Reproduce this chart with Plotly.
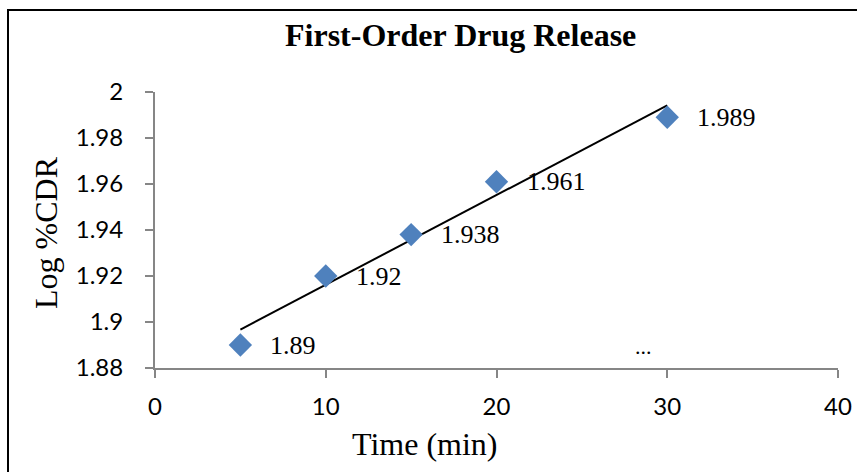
import numpy as np
import plotly.graph_objects as go

time_min = [5, 10, 15, 20, 30]
log_cdr = [1.89, 1.92, 1.938, 1.961, 1.989]
point_labels = ["1.89", "1.92", "1.938", "1.961", "1.989"]

x_ticks = [0, 10, 20, 30, 40]
y_ticks = [1.88, 1.9, 1.92, 1.94, 1.96, 1.98, 2.0]
y_tick_text = ["1.88", "1.9", "1.92", "1.94", "1.96", "1.98", "2"]

# linear trendline over the measured range
slope, intercept = np.polyfit(time_min, log_cdr, 1)
trend_x = [min(time_min), max(time_min)]
trend_y = [slope * x + intercept for x in trend_x]

serif = "Liberation Serif, Times New Roman, serif"
axis_grey = "#868686"

W, H = 857, 472
L, R, T, B = 155, 19, 92, 104
pw, ph = W - L - R, H - T - B


def px(x):
    return (x - L) / pw


def py(y):
    return (H - B - y) / ph


fig = go.Figure()

fig.add_trace(
    go.Scatter(
        x=trend_x,
        y=trend_y,
        mode="lines",
        line=dict(color="black", width=2),
        showlegend=False,
        hoverinfo="skip",
    )
)

fig.add_trace(
    go.Scatter(
        x=time_min,
        y=log_cdr,
        mode="markers",
        marker=dict(symbol="diamond", size=18, color="#4F81BD"),
        showlegend=False,
        cliponaxis=False,
    )
)

for x, y, t in zip(time_min, log_cdr, point_labels):
    fig.add_annotation(
        x=x, y=y, text=t, showarrow=False,
        xanchor="left", yanchor="middle", xshift=28,
        font=dict(family=serif, size=26, color="black"),
    )

fig.add_annotation(
    x=28.6, y=1.8895, text="...", showarrow=False,
    xanchor="center", yanchor="middle",
    font=dict(family=serif, size=22, color="black"),
)

fig.add_annotation(
    text="<b>First-Order Drug Release</b>",
    xref="paper", yref="paper", x=px(460), y=py(35),
    xanchor="center", yanchor="middle",
    showarrow=False, font=dict(family=serif, size=32, color="black"),
)

fig.add_annotation(
    text="Time (min)",
    xref="paper", yref="paper", x=px(425), y=py(444),
    xanchor="center", yanchor="middle",
    showarrow=False, font=dict(family=serif, size=32, color="black"),
)

fig.add_annotation(
    text="Log %CDR",
    xref="paper", yref="paper", x=px(46), y=py(233), textangle=-90,
    xanchor="center", yanchor="middle",
    showarrow=False, font=dict(family=serif, size=32, color="black"),
)

# outer chart frame
fig.add_shape(
    type="rect", xref="paper", yref="paper",
    x0=px(8), x1=px(880), y0=py(500), y1=py(10),
    line=dict(color="black", width=2),
)

fig.update_layout(
    width=W,
    height=H,
    margin=dict(l=L, r=R, t=T, b=B),
    plot_bgcolor="white",
    paper_bgcolor="white",
    font=dict(family="Lato, Open Sans, sans-serif", size=24, color="black"),
)

fig.update_xaxes(
    range=[0, 40],
    tickvals=x_ticks,
    showgrid=False,
    zeroline=False,
    showline=True,
    linecolor=axis_grey,
    linewidth=2,
    ticks="outside",
    ticklen=8,
    tickwidth=2,
    tickcolor=axis_grey,
    tickfont=dict(size=24),
    ticklabelstandoff=8,
    automargin=False,
)

fig.update_yaxes(
    range=[1.88, 2.0],
    tickvals=y_ticks,
    ticktext=y_tick_text,
    showgrid=False,
    zeroline=False,
    showline=True,
    linecolor=axis_grey,
    linewidth=2,
    ticks="outside",
    ticklen=8,
    tickwidth=2,
    tickcolor=axis_grey,
    tickfont=dict(size=24),
    ticklabelstandoff=17,
    automargin=False,
)

# drop the page's default body margin so the figure fills the window
fig.write_html(
    "out.html",
    config=dict(displayModeBar=False),
    post_script="document.body.style.margin='0';document.body.style.overflow='hidden';",
)
